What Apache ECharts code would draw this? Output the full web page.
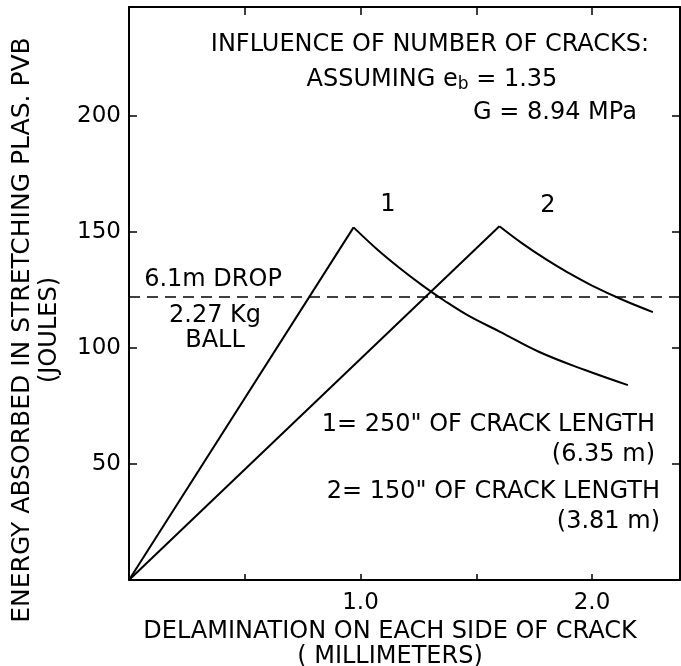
<!DOCTYPE html>
<html><head><meta charset="utf-8">
<script src="https://cdn.jsdelivr.net/npm/echarts@6/dist/echarts.min.js"></script>
<style>html,body{margin:0;padding:0;background:#fff}#c{width:681px;height:666px}</style>
</head><body><div id="c"></div>
<script>
// Curve 1: 250" of crack length (index 1 is the peak)
const crack1X = [0, 0.97, 1.07, 1.17, 1.27, 1.358, 1.47, 1.603, 1.77, 1.97, 2.155];
const crack1Y = [0, 152, 142.7, 134.4, 126.8, 120.7, 113.7, 107, 98.4, 90.5, 84];
// Curve 2: 150" of crack length (index 1 is the peak)
const crack2X = [0, 1.6, 1.7, 1.8, 1.9, 2.0, 2.134, 2.263];
const crack2Y = [0, 152.5, 145, 138.3, 132.3, 126.9, 120.7, 115.5];
// 6.1 m drop, 2.27 kg ball energy level
const dropX = [0, 2.38];
const dropY = [122, 122];
const xTickLabels = [1.0, 2.0];
const yTickLabels = [50, 100, 150, 200];

const FONT = 'DejaVu Sans';
const zip = (xs, ys) => xs.map((x, i) => [x, ys[i]]);

const chart = echarts.init(document.getElementById('c'), null, {renderer: 'canvas'});
const axLine = {show: true, onZero: false, lineStyle: {color: '#000', width: 2}};
const tickIn = (len) => ({show: true, inside: true, length: len, lineStyle: {color: '#000', width: 1.5}});

const txt = (text, x, y, align, size) => ({
  type: 'text', x: x, y: y,
  style: {text: text, fill: '#000', font: (size || 24) + 'px "' + FONT + '"', textAlign: align || 'center', textVerticalAlign: 'middle'}
});
const curveStyle = {color: '#000', width: 2};

chart.setOption({
  animation: false,
  backgroundColor: '#fff',
  grid: {left: 129, top: 7, right: 1, bottom: 86},
  xAxis: [
    {type: 'value', min: 0, max: 2.38, interval: 0.5, position: 'bottom',
     axisLine: axLine, axisTick: tickIn(6), splitLine: {show: false},
     axisLabel: {color: '#000', fontSize: 23, fontFamily: FONT, margin: 12,
       showMinLabel: false, showMaxLabel: false,
       formatter: v => xTickLabels.some(t => Math.abs(t - v) < 1e-6) ? v.toFixed(1) : ''}},
    {type: 'value', min: 0, max: 2.38, interval: 0.5, position: 'top',
     axisLine: axLine, axisTick: tickIn(8), splitLine: {show: false}, axisLabel: {show: false}}
  ],
  yAxis: [
    {type: 'value', min: 0, max: 247, interval: 50, position: 'left',
     axisLine: axLine, axisTick: tickIn(8), splitLine: {show: false},
     axisLabel: {color: '#000', fontSize: 23, fontFamily: FONT, margin: 8,
       showMinLabel: false, showMaxLabel: false,
       formatter: v => yTickLabels.indexOf(v) >= 0 ? String(v) : ''}},
    {type: 'value', min: 0, max: 247, interval: 50, position: 'right',
     axisLine: axLine, axisTick: tickIn(8), splitLine: {show: false}, axisLabel: {show: false}}
  ],
  series: [
    // rising (straight) parts
    {type: 'line', data: zip(crack1X, crack1Y).slice(0, 2), symbol: 'none', lineStyle: curveStyle},
    {type: 'line', data: zip(crack2X, crack2Y).slice(0, 2), symbol: 'none', lineStyle: curveStyle},
    // falling (curved) parts
    {type: 'line', data: zip(crack1X, crack1Y).slice(1), symbol: 'none', smooth: 0.4, lineStyle: curveStyle},
    {type: 'line', data: zip(crack2X, crack2Y).slice(1), symbol: 'none', smooth: 0.4, lineStyle: curveStyle},
    {type: 'line', data: zip(dropX, dropY), symbol: 'none',
     lineStyle: {color: '#000', width: 1.5, type: [11, 7]}}
  ],
  graphic: [
    txt('INFLUENCE OF NUMBER OF CRACKS:', 430, 45),
    {type: 'text', x: 432, y: 80, style: {
      text: 'ASSUMING e{s|b} = 1.35', fill: '#000', font: '24px "' + FONT + '"',
      textAlign: 'center', textVerticalAlign: 'middle',
      rich: {s: {fontSize: 17, fontFamily: FONT, verticalAlign: 'bottom', padding: [10, 0, 0, 0]}}}},
    txt('G = 8.94 MPa', 555, 113),
    txt('1', 388, 205),
    txt('2', 548, 206),
    txt('6.1m DROP', 213, 280),
    txt('2.27 Kg', 215, 316),
    txt('BALL', 215, 341),
    txt('1= 250" OF CRACK LENGTH', 655, 425, 'right'),
    txt('(6.35 m)', 655, 455, 'right'),
    txt('2= 150" OF CRACK LENGTH', 660, 492, 'right'),
    txt('(3.81 m)', 660, 522, 'right'),
    txt('DELAMINATION ON EACH SIDE OF CRACK', 390, 632),
    txt('( MILLIMETERS)', 390, 657),
    {type: 'text', x: 22, y: 330, rotation: Math.PI / 2, style: {
      text: 'ENERGY ABSORBED IN STRETCHING PLAS. PVB', fill: '#000', font: '25px "' + FONT + '"',
      textAlign: 'center', textVerticalAlign: 'middle'}},
    {type: 'text', x: 50, y: 330, rotation: Math.PI / 2, style: {
      text: '(JOULES)', fill: '#000', font: '24px "' + FONT + '"',
      textAlign: 'center', textVerticalAlign: 'middle'}}
  ]
});
</script></body></html>
